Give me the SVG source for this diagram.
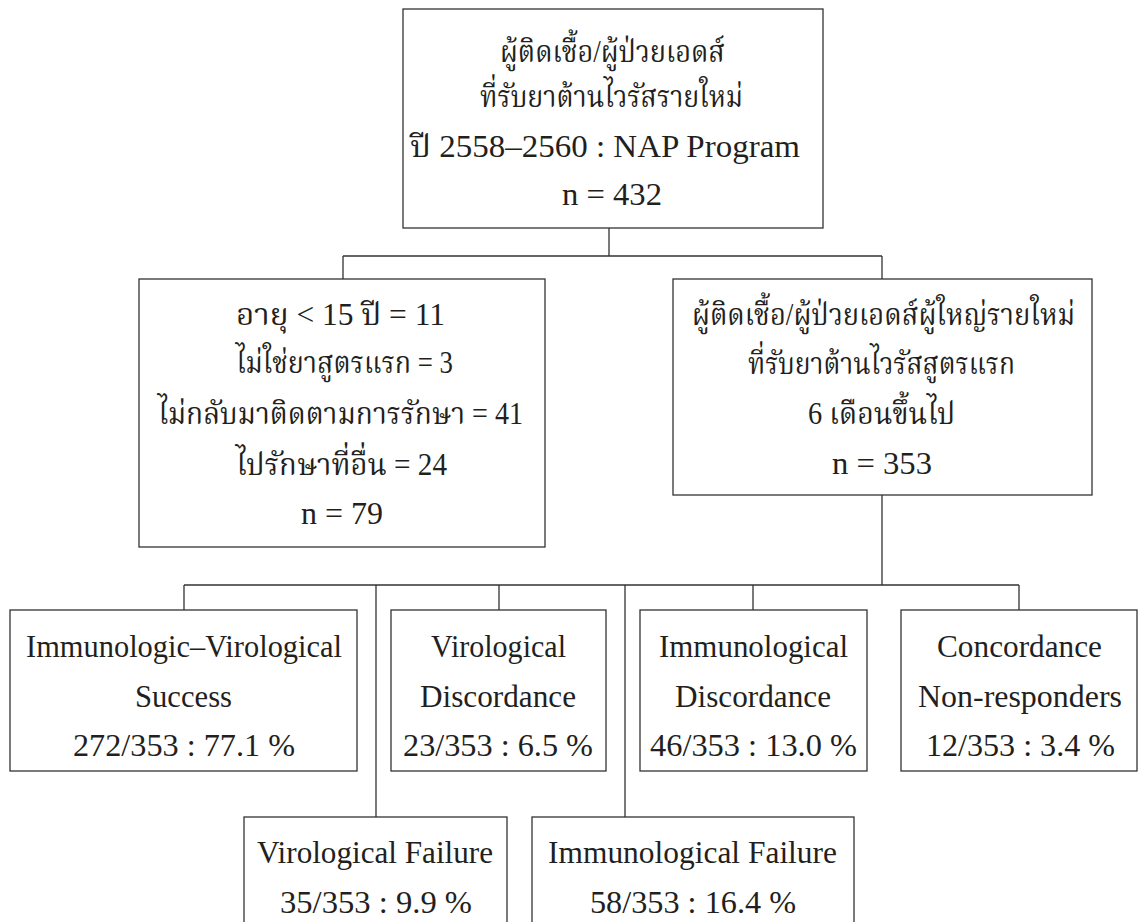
<svg xmlns="http://www.w3.org/2000/svg" width="1138" height="922" viewBox="0 0 1138 922">
<style>
.box{fill:#fff;stroke:#333;stroke-width:1.3}
.conn{fill:none;stroke:#333;stroke-width:1.3}
text{font-family:"Liberation Serif","Noto Serif Thai","Noto Sans Thai",serif;font-size:31px;fill:#231f20;text-anchor:middle}
</style>
<rect width="1138" height="922" fill="#fff"/>
<g id="connectors">
<path class="conn" d="M609,228V256M343,256H882M343,256V279M882,256V279M882,495V585M184,585H1019M184,585V610M499,585V610M753,585V610M1019,585V610M376,585V817M625,585V817"/>
</g>
<g id="n-top">
<rect class="box" x="403" y="9" width="420" height="219"/>
<text x="612.5" y="62" textLength="225" lengthAdjust="spacingAndGlyphs">ผู้ติดเชื้อ/ผู้ป่วยเอดส์</text>
<text x="611.5" y="107" textLength="263" lengthAdjust="spacingAndGlyphs">ที่รับยาต้านไวรัสรายใหม่</text>
<text x="605" y="157" textLength="390" lengthAdjust="spacingAndGlyphs">ปี 2558–2560 : NAP Program</text>
<text x="612" y="205" textLength="100" lengthAdjust="spacingAndGlyphs">n = 432</text>
</g>
<g id="n-excluded">
<rect class="box" x="139" y="279" width="406" height="268"/>
<text x="340.5" y="325" textLength="209" lengthAdjust="spacingAndGlyphs">อายุ &lt; 15 ปี = 11</text>
<text x="344.5" y="373" textLength="217" lengthAdjust="spacingAndGlyphs">ไม่ใช่ยาสูตรแรก = 3</text>
<text x="340.5" y="424" textLength="365" lengthAdjust="spacingAndGlyphs">ไม่กลับมาติดตามการรักษา = 41</text>
<text x="341.5" y="475" textLength="211" lengthAdjust="spacingAndGlyphs">ไปรักษาที่อื่น = 24</text>
<text x="342" y="524" textLength="82" lengthAdjust="spacingAndGlyphs">n = 79</text>
</g>
<g id="n-included">
<rect class="box" x="673" y="279" width="419" height="216"/>
<text x="883.5" y="325" textLength="383" lengthAdjust="spacingAndGlyphs">ผู้ติดเชื้อ/ผู้ป่วยเอดส์ผู้ใหญ่รายใหม่</text>
<text x="881.5" y="374" textLength="267" lengthAdjust="spacingAndGlyphs">ที่รับยาต้านไวรัสสูตรแรก</text>
<text x="881.5" y="424" textLength="147" lengthAdjust="spacingAndGlyphs">6 เดือนขึ้นไป</text>
<text x="882" y="474" textLength="100" lengthAdjust="spacingAndGlyphs">n = 353</text>
</g>
<g id="n-success">
<rect class="box" x="10" y="610" width="347" height="161"/>
<text x="184" y="657" textLength="316" lengthAdjust="spacingAndGlyphs">Immunologic–Virological</text>
<text x="183.5" y="707" textLength="97" lengthAdjust="spacingAndGlyphs">Success</text>
<text x="184" y="756" textLength="222" lengthAdjust="spacingAndGlyphs">272/353 : 77.1 %</text>
</g>
<g id="n-vir-discordance">
<rect class="box" x="391" y="610" width="215" height="161"/>
<text x="498.5" y="657" textLength="135" lengthAdjust="spacingAndGlyphs">Virological</text>
<text x="498" y="707" textLength="156" lengthAdjust="spacingAndGlyphs">Discordance</text>
<text x="498" y="756" textLength="190" lengthAdjust="spacingAndGlyphs">23/353 : 6.5 %</text>
</g>
<g id="n-imm-discordance">
<rect class="box" x="640" y="610" width="227" height="161"/>
<text x="753.5" y="657" textLength="189" lengthAdjust="spacingAndGlyphs">Immunological</text>
<text x="753" y="707" textLength="156" lengthAdjust="spacingAndGlyphs">Discordance</text>
<text x="753.5" y="756" textLength="207" lengthAdjust="spacingAndGlyphs">46/353 : 13.0 %</text>
</g>
<g id="n-concordance">
<rect class="box" x="901" y="610" width="236" height="161"/>
<text x="1019.5" y="657" textLength="165" lengthAdjust="spacingAndGlyphs">Concordance</text>
<text x="1020" y="707" textLength="204" lengthAdjust="spacingAndGlyphs">Non-responders</text>
<text x="1020.5" y="756" textLength="189" lengthAdjust="spacingAndGlyphs">12/353 : 3.4 %</text>
</g>
<g id="n-vir-failure">
<rect class="box" x="244" y="817" width="263" height="130"/>
<text x="375" y="863" textLength="236" lengthAdjust="spacingAndGlyphs">Virological Failure</text>
<text x="376" y="913" textLength="192" lengthAdjust="spacingAndGlyphs">35/353 : 9.9 %</text>
</g>
<g id="n-imm-failure">
<rect class="box" x="532" y="817" width="322" height="130"/>
<text x="692.5" y="863" textLength="289" lengthAdjust="spacingAndGlyphs">Immunological Failure</text>
<text x="693" y="913" textLength="206" lengthAdjust="spacingAndGlyphs">58/353 : 16.4 %</text>
</g>
</svg>
